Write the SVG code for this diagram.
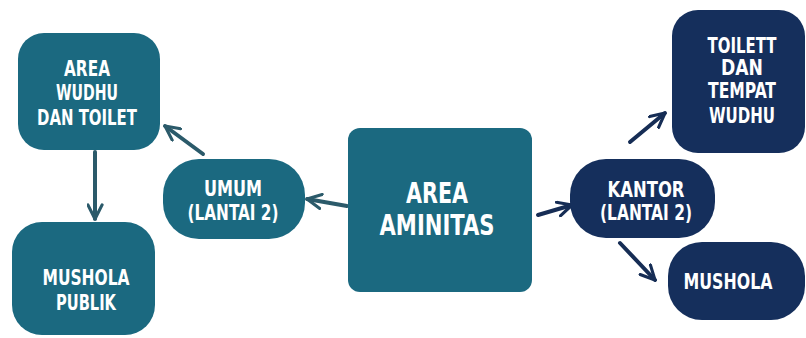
<svg xmlns="http://www.w3.org/2000/svg" width="806" height="338" viewBox="0 0 806 338">
<style>
.teal{fill:#1b6980}
.navy{fill:#152f5c}
.t{font-family:"DejaVu Sans Condensed","DejaVu Sans","Liberation Sans",sans-serif;font-stretch:condensed;font-weight:bold;fill:#ffffff;text-anchor:middle;dominant-baseline:central}
.ct{stroke:#2b5a6a;stroke-width:4;fill:none;stroke-linecap:round}
.cn{stroke:#162d55;stroke-width:4;fill:none;stroke-linecap:round}
</style>
<defs>
<marker id="at" viewBox="0 0 12 12" refX="11" refY="6" markerWidth="17" markerHeight="17" markerUnits="userSpaceOnUse" orient="auto">
<path d="M1,1 L11,6 L1,11" fill="none" stroke="#2b5a6a" stroke-width="2.2" stroke-linecap="round" stroke-linejoin="round"/>
</marker>
<marker id="an" viewBox="0 0 12 12" refX="11" refY="6" markerWidth="17" markerHeight="17" markerUnits="userSpaceOnUse" orient="auto">
<path d="M1,1 L11,6 L1,11" fill="none" stroke="#162d55" stroke-width="2.2" stroke-linecap="round" stroke-linejoin="round"/>
</marker>
</defs>
<rect width="806" height="338" fill="#ffffff"/>
<g id="connectors">
<line class="ct" x1="347" y1="206" x2="307" y2="199" marker-end="url(#at)"/>
<line class="ct" x1="203" y1="154" x2="165" y2="126" marker-end="url(#at)"/>
<line class="ct" x1="95" y1="152" x2="95" y2="219" marker-end="url(#at)"/>
<line class="cn" x1="538" y1="215" x2="572" y2="205" marker-end="url(#an)"/>
<line class="cn" x1="630" y1="142" x2="665" y2="113" marker-end="url(#an)"/>
<line class="cn" x1="620" y1="243" x2="655" y2="280" marker-end="url(#an)"/>
</g>
<g id="area-wudhu">
<rect class="teal" x="18" y="33" width="142" height="117" rx="26"/>
<text class="t" font-size="21" x="87" y="69" textLength="46" lengthAdjust="spacingAndGlyphs">AREA</text>
<text class="t" font-size="21" x="87" y="93" textLength="62" lengthAdjust="spacingAndGlyphs">WUDHU</text>
<text class="t" font-size="21" x="87" y="118" textLength="100" lengthAdjust="spacingAndGlyphs">DAN TOILET</text>
</g>
<g id="mushola-publik">
<rect class="teal" x="12" y="222" width="143" height="113" rx="30"/>
<text class="t" font-size="21" x="86" y="278" textLength="87" lengthAdjust="spacingAndGlyphs">MUSHOLA</text>
<text class="t" font-size="21" x="86" y="303" textLength="60" lengthAdjust="spacingAndGlyphs">PUBLIK</text>
</g>
<g id="umum">
<rect class="teal" x="163" y="159" width="142" height="80" rx="36"/>
<text class="t" font-size="21" x="233" y="189" textLength="58" lengthAdjust="spacingAndGlyphs">UMUM</text>
<text class="t" font-size="21" x="233" y="213" textLength="91" lengthAdjust="spacingAndGlyphs">(LANTAI 2)</text>
</g>
<g id="area-aminitas">
<rect class="teal" x="348" y="128" width="184" height="164" rx="12"/>
<text class="t" font-size="28" x="437" y="193" textLength="62" lengthAdjust="spacingAndGlyphs">AREA</text>
<text class="t" font-size="28" x="437" y="225" textLength="115" lengthAdjust="spacingAndGlyphs">AMINITAS</text>
</g>
<g id="kantor">
<rect class="navy" x="570" y="159" width="145" height="79" rx="36"/>
<text class="t" font-size="21" x="646" y="190" textLength="77" lengthAdjust="spacingAndGlyphs">KANTOR</text>
<text class="t" font-size="21" x="646" y="213" textLength="92" lengthAdjust="spacingAndGlyphs">(LANTAI 2)</text>
</g>
<g id="toilett">
<rect class="navy" x="672" y="10" width="133" height="143" rx="26"/>
<text class="t" font-size="21" x="742" y="46" textLength="69" lengthAdjust="spacingAndGlyphs">TOILETT</text>
<text class="t" font-size="21" x="742" y="68" textLength="42" lengthAdjust="spacingAndGlyphs">DAN</text>
<text class="t" font-size="21" x="742" y="91" textLength="68" lengthAdjust="spacingAndGlyphs">TEMPAT</text>
<text class="t" font-size="21" x="742" y="116" textLength="66" lengthAdjust="spacingAndGlyphs">WUDHU</text>
</g>
<g id="mushola">
<rect class="navy" x="668" y="242" width="137" height="78" rx="34"/>
<text class="t" font-size="21" x="728" y="282" textLength="89" lengthAdjust="spacingAndGlyphs">MUSHOLA</text>
</g>
</svg>
